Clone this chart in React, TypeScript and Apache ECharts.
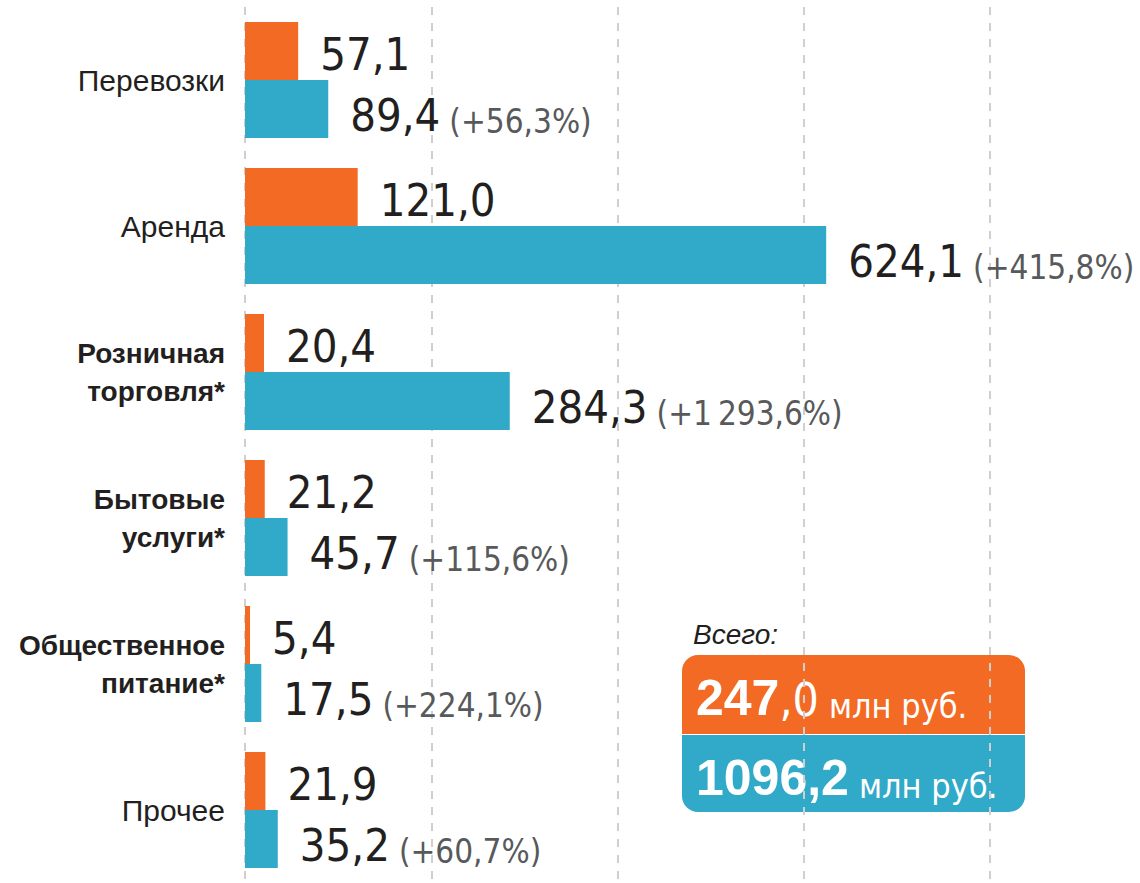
import React, { useEffect, useRef } from "react";
import * as echarts from "echarts";

const categories = [
  "Перевозки",
  "Аренда",
  "Розничная\nторговля*",
  "Бытовые\nуслуги*",
  "Общественное\nпитание*",
  "Прочее",
];
const boldCategories = [false, false, true, true, true, false];
const valuesPrev = [57.1, 121.0, 20.4, 21.2, 5.4, 21.9];
const valuesCurr = [89.4, 624.1, 284.3, 45.7, 17.5, 35.2];
const growthLabels = ["+56,3%", "+415,8%", "+1\u202F293,6%", "+115,6%", "+224,1%", "+60,7%"];
const totalPrevBold = "247";
const totalPrevRest = ",0";
const totalCurrBold = "1096,2";
const totalUnit = "млн руб.";
const totalTitle = "Всего:";

const ORANGE = "#F26A23";
const BLUE = "#31A9C9";
const DARK = "#231F20";
const GREY = "#58595B";
const NARROW = "'DejaVu Sans Condensed', sans-serif";
const SANS = "'Liberation Sans', Arial, sans-serif";

const fmt = (v: number) => v.toFixed(1).replace(".", ",");

export default function App() {
  const ref = useRef<HTMLDivElement>(null);
  useEffect(() => {
    if (!ref.current) return;
    const chart = echarts.init(ref.current, null, { renderer: "svg" });
    chart.setOption({
      animation: false,
      backgroundColor: "#ffffff",
      grid: { left: 245, right: 150, top: 7, height: 881, containLabel: false },
      xAxis: {
        type: "value",
        min: 0,
        max: 800,
        interval: 200,
        axisLabel: { show: false },
        axisLine: { show: false },
        axisTick: { show: false },
        splitLine: { show: true, lineStyle: { color: "#cfcfcf", width: 2, type: [8, 8] } },
      },
      yAxis: {
        type: "category",
        inverse: true,
        data: categories,
        axisLine: { show: false },
        axisTick: { show: false },
        axisLabel: {
          margin: 20,
          formatter: (val: string, idx: number) => {
            const lines = val.split("\n");
            const key = boldCategories[idx] ? "b" : "r";
            return lines.map((l) => `{${key}|${l}}`).join("\n");
          },
          rich: {
            r: { fontFamily: SANS, fontSize: 30, color: DARK, lineHeight: 38, align: "right" },
            b: { fontFamily: SANS, fontSize: 28, fontWeight: "bold", color: DARK, lineHeight: 38, align: "right" },
          },
        },
      },
      series: [
        {
          type: "bar",
          data: valuesPrev,
          barWidth: 58,
          barGap: "0%",
          itemStyle: { color: ORANGE },
          label: {
            show: true,
            position: "right",
            distance: 22,
            offset: [0, 3],
            fontFamily: NARROW,
            fontSize: 45,
            color: DARK,
            formatter: (p: any) => fmt(p.value),
          },
        },
        {
          type: "bar",
          data: valuesCurr,
          barWidth: 58,
          barGap: "0%",
          itemStyle: { color: BLUE },
          label: {
            show: true,
            position: "right",
            distance: 22,
            offset: [0, 3],
            formatter: (p: any) => `{v|${fmt(p.value)}}{p|(${growthLabels[p.dataIndex]})}`,
            rich: {
              v: { fontFamily: NARROW, fontSize: 45, color: DARK, lineHeight: 52, verticalAlign: "bottom" },
              p: { fontFamily: NARROW, fontSize: 33, color: GREY, lineHeight: 44, verticalAlign: "bottom", padding: [0, 0, 0, 9] },
            },
          },
        },
      ],
      graphic: [
        {
          type: "text",
          left: 693,
          top: 620,
          style: { text: totalTitle, fontFamily: SANS, fontStyle: "italic", fontSize: 28, fill: DARK },
        },
        {
          type: "rect",
          shape: { x: 682, y: 655, width: 343, height: 79, r: [16, 16, 0, 0] },
          style: { fill: ORANGE },
        },
        {
          type: "rect",
          shape: { x: 682, y: 735, width: 343, height: 77, r: [0, 0, 16, 16] },
          style: { fill: BLUE },
        },
        {
          type: "text",
          x: 696,
          y: 695,
          style: {
            text: `{a|${totalPrevBold}}{b|${totalPrevRest}}{c|${totalUnit}}`,
            verticalAlign: "middle",
            rich: {
              a: { fontFamily: SANS, fontWeight: "bold", fontSize: 50, fill: "#fff", verticalAlign: "bottom", lineHeight: 56 },
              b: { fontFamily: NARROW, fontSize: 46, fill: "#fff", verticalAlign: "bottom", lineHeight: 54 },
              c: { fontFamily: NARROW, fontSize: 34, fill: "#fff", verticalAlign: "bottom", lineHeight: 46, padding: [0, 0, 0, 10] },
            },
          },
        },
        {
          type: "text",
          x: 696,
          y: 775,
          style: {
            text: `{a|${totalCurrBold}}{c|${totalUnit}}`,
            verticalAlign: "middle",
            rich: {
              a: { fontFamily: SANS, fontWeight: "bold", fontSize: 50, fill: "#fff", verticalAlign: "bottom", lineHeight: 56 },
              c: { fontFamily: NARROW, fontSize: 34, fill: "#fff", verticalAlign: "bottom", lineHeight: 46, padding: [0, 0, 0, 10] },
            },
          },
        },
      ],
    });
    return () => chart.dispose();
  }, []);
  return (
    <div
      ref={ref}
      style={{ position: "fixed", left: 0, top: 0, width: 1140, height: 883, background: "#fff" }}
    />
  );
}
